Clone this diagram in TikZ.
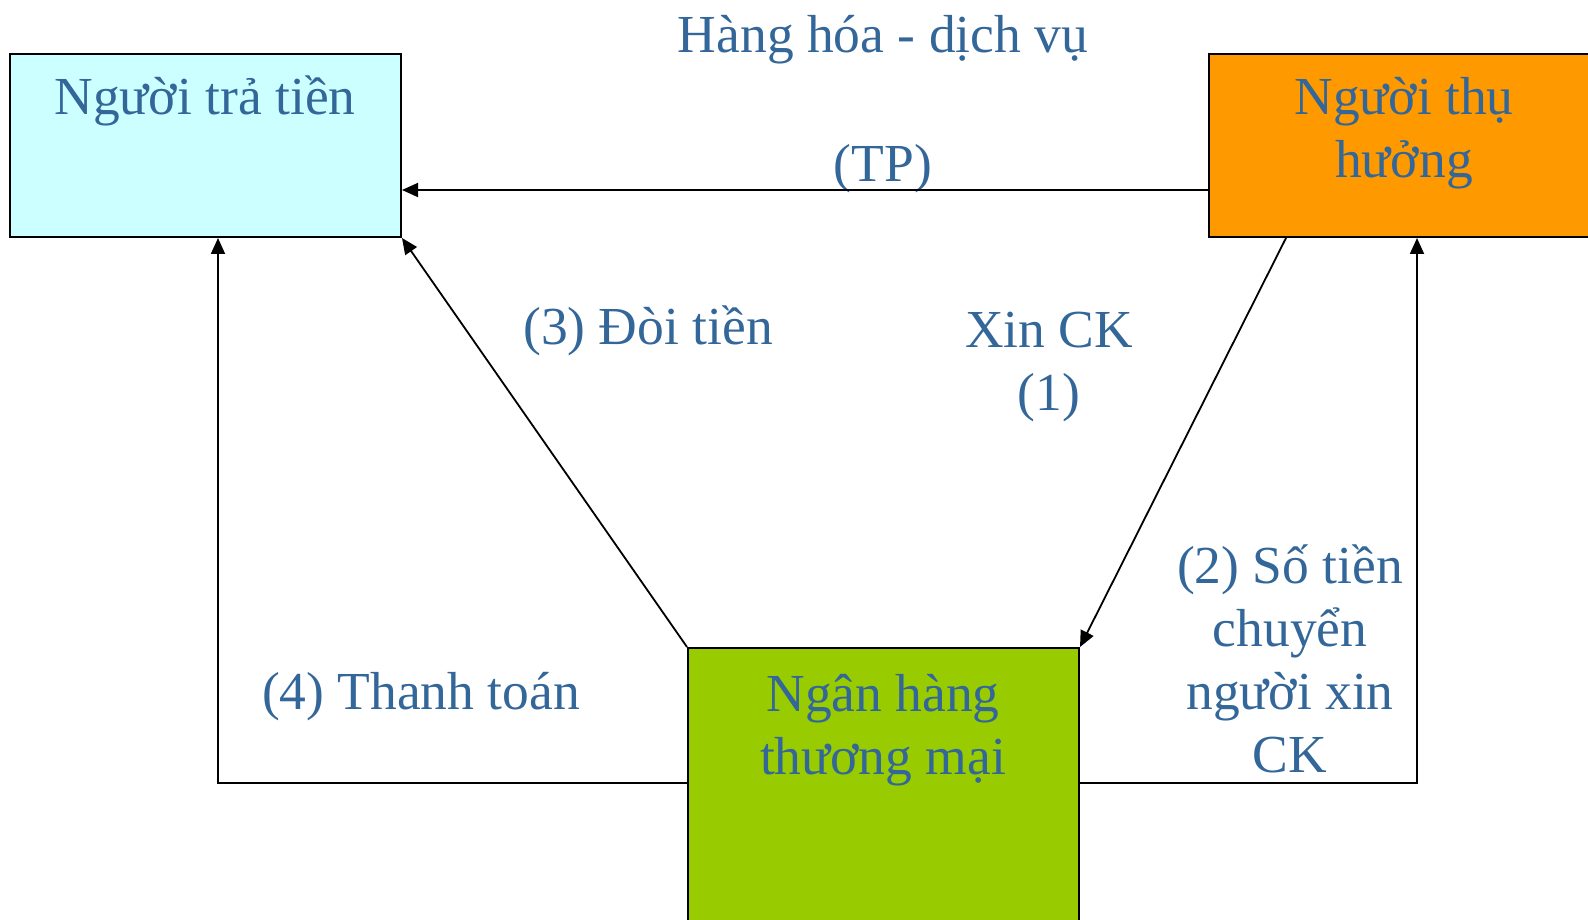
\documentclass[tikz,border=0pt]{standalone}
\usepackage{fontspec}
\setmainfont{Liberation Serif}
\usetikzlibrary{arrows.meta,positioning}
\definecolor{ink}{HTML}{336699}
\definecolor{payerfill}{HTML}{CCFFFF}
\definecolor{payeefill}{HTML}{FF9900}
\definecolor{bankfill}{HTML}{99CC00}

\begin{document}
\begin{tikzpicture}[x=1pt,y=-1pt,>={Triangle[length=16pt,width=14pt]},
  box/.style={draw=black,line width=2pt,inner sep=0pt,anchor=north west},
  txt/.style={text=ink,font=\fontsize{53.5}{63}\selectfont,align=center,inner sep=0pt},
  flow/.style={->,line width=1.8pt}]
 \useasboundingbox (0,0) rectangle (1588,920);
 % the three parties
 \node[box,fill=payerfill,minimum width=391pt,minimum height=183pt] (payer) at (9,53) {};
 \node[box,fill=payeefill,minimum width=420pt,minimum height=183pt] (payee) at (1208,53) {};
 \node[box,fill=bankfill,minimum width=391pt,minimum height=300pt] (bank) at (687,647) {};
 \node[txt,anchor=base] (payertxt) at (205,115) {Người trả tiền};
 \node[txt,anchor=base] (payeetxt) at (1404,178) {Người thụ\\hưởng};
 \node[txt,anchor=base] (banktxt) at (883,774) {Ngân hàng\\thương mại};
 % labels
 \node[txt,anchor=base] (goods) at (883,53) {Hàng hóa - dịch vụ};
 \node[txt,anchor=base] (tp) at (883,182) {(TP)};
 \node[txt,anchor=base] (ask) at (1049,410) {Xin CK\\(1)};
 \node[txt,anchor=base] (claim) at (648,344) {(3) Đòi tiền};
 \node[txt,anchor=base] (pay) at (421,709) {(4) Thanh toán};
 \node[txt,anchor=base] (credit) at (1290,772) {(2) Số tiền\\chuyển\\người xin\\CK};
 % connectors
 \coordinate (c4) at (218,783);
 \coordinate (c2) at (1417,783);
 \draw[flow] (payee.west |- 0,190) -- (payer.east |- 0,190);
 \draw[flow] (payee.south west -| 1286,0) -- (bank.north east);
 \draw[flow] (bank.north west) -- (payer.south east);
 \draw[flow] (bank.west |- c4) -- (c4) -- (c4 |- payer.south);
 \draw[flow] (bank.east |- c2) -- (c2) -- (c2 |- payee.south);
\end{tikzpicture}
\end{document}
